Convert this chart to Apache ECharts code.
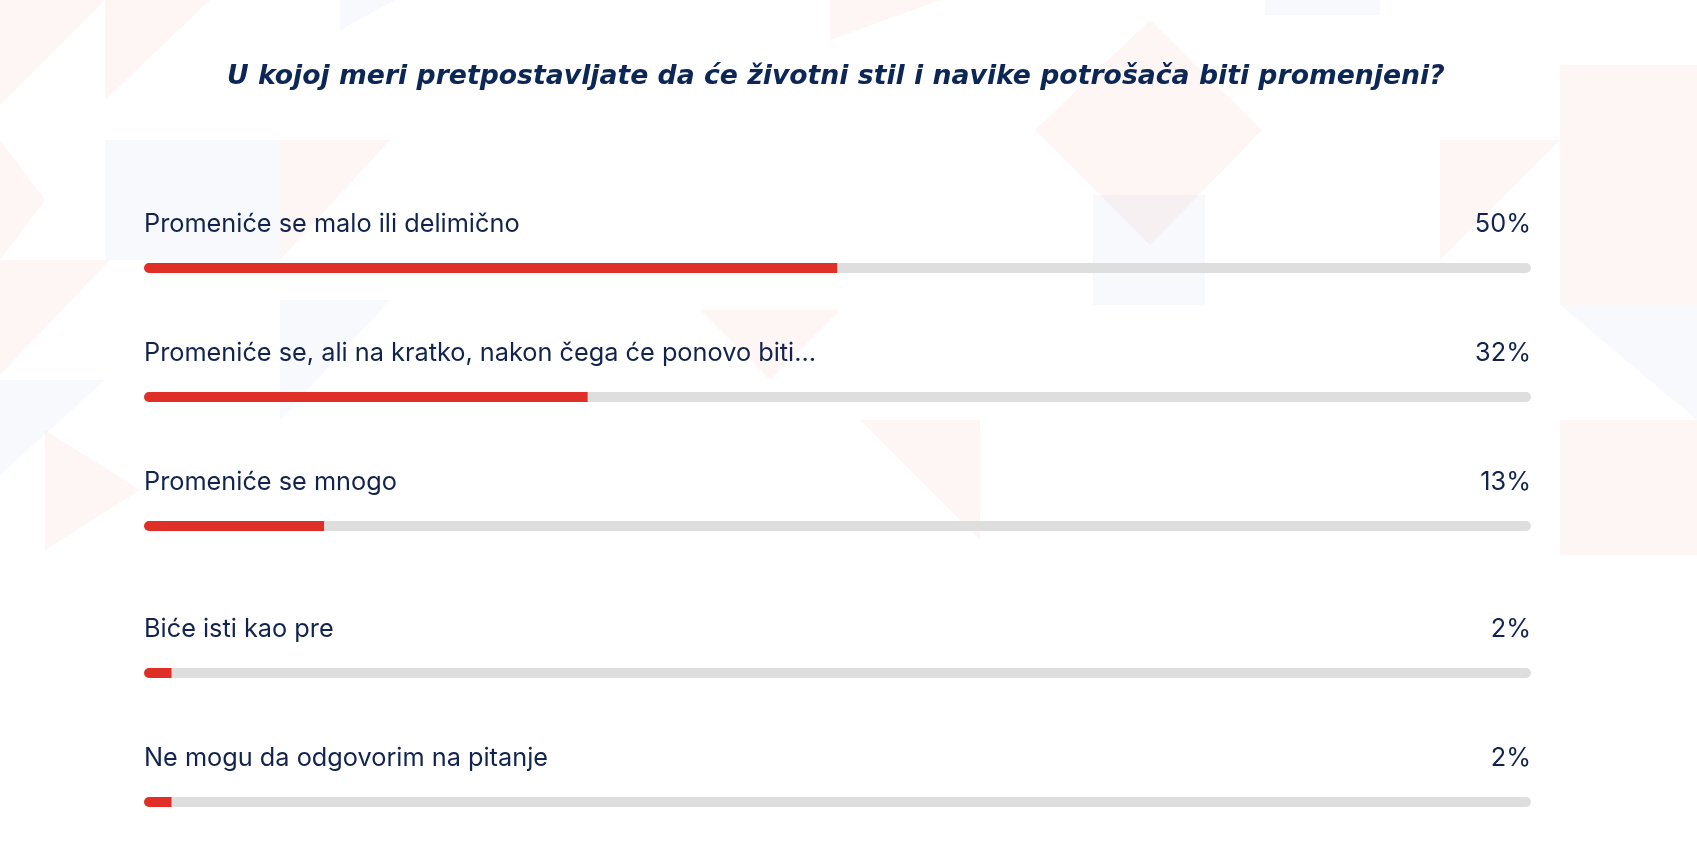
<!DOCTYPE html>
<html>
<head>
<meta charset="utf-8">
<script src="https://cdn.jsdelivr.net/npm/echarts@6/dist/echarts.min.js"></script>
<style>
  html, body { margin: 0; padding: 0; background: #ffffff; }
  #chart { width: 1697px; height: 857px; }
</style>
</head>
<body>
<div id="chart"></div>
<script>
// ---- data ----
const titleText = 'U kojoj meri pretpostavljate da će životni stil i navike potrošača biti promenjeni?';
const categories = [
  'Promeniće se malo ili delimično',
  'Promeniće se, ali na kratko, nakon čega će ponovo biti...',
  'Promeniće se mnogo',
  'Biće isti kao pre',
  'Ne mogu da odgovorim na pitanje'
];
const values = [50, 32, 13, 2, 2];
const maxValue = 100;

// ---- layout (styling only) ----
const W = 1697;
const trackLeft = 144, trackRight = 1531;
const barCenters = [268, 397, 526, 673, 802];
const barH = 10;
const labelLift = -39;
const textColor = '#12244d';
const red = '#e02f26';
const track = '#dedede';
const labelFont = { fontFamily: 'Inter', fontSize: 25.3, color: textColor };

const grids = [], xAxes = [], yAxes = [], series = [];
categories.forEach((cat, i) => {
  grids.push({ left: trackLeft, right: W - trackRight, top: barCenters[i] - barH / 2, height: barH });
  xAxes.push({ gridIndex: i, type: 'value', min: 0, max: maxValue, show: false });
  yAxes.push({ gridIndex: i, type: 'category', data: [cat], show: false });
  series.push({
    type: 'bar', xAxisIndex: i, yAxisIndex: i, stack: 'row' + i,
    data: [values[i]], barWidth: barH,
    itemStyle: { color: red, borderRadius: [barH / 2, 0, 0, barH / 2] },
    label: Object.assign({
      show: true, position: [0, labelLift], align: 'left', verticalAlign: 'middle',
      formatter: () => cat
    }, labelFont),
    silent: true
  });
  series.push({
    type: 'bar', xAxisIndex: i, yAxisIndex: i, stack: 'row' + i,
    data: [maxValue - values[i]], barWidth: barH,
    itemStyle: { color: track, borderRadius: [0, barH / 2, barH / 2, 0] },
    label: Object.assign({
      show: true, position: ['100%', labelLift], align: 'right', verticalAlign: 'middle',
      formatter: () => values[i] + '%'
    }, labelFont),
    silent: true
  });
});

// faint decorative background triangles
const pink = 'rgba(232,70,55,0.05)';
const blue = 'rgba(70,120,210,0.045)';
const shapes = [
  [pink, [[0,0],[105,0],[0,105]]],
  [pink, [[105,0],[210,0],[105,100]]],
  [blue, [[340,0],[395,0],[340,30]]],
  [pink, [[0,140],[45,200],[0,260]]],
  [blue, [[105,140],[280,140],[280,260],[105,260]]],
  [pink, [[280,140],[390,140],[280,260]]],
  [pink, [[0,260],[110,260],[0,375]]],
  [blue, [[0,380],[105,380],[0,475]]],
  [pink, [[45,430],[140,490],[45,550]]],
  [blue, [[280,300],[390,300],[280,420]]],
  [pink, [[700,310],[840,310],[770,380]]],
  [pink, [[860,420],[980,420],[980,540]]],
  [pink, [[830,0],[940,0],[830,40]]],
  [pink, [[1035,130],[1150,20],[1262,130],[1150,245]]],
  [blue, [[1093,195],[1205,195],[1205,305],[1093,305]]],
  [blue, [[1265,0],[1380,0],[1380,15],[1265,15]]],
  [pink, [[1440,140],[1560,140],[1440,260]]],
  [pink, [[1560,65],[1697,65],[1697,305],[1560,305]]],
  [blue, [[1560,305],[1697,305],[1697,420]]],
  [pink, [[1560,420],[1697,420],[1697,555],[1560,555]]]
];
const graphics = shapes.map(s => ({
  type: 'polygon', z: -10, silent: true,
  shape: { points: s[1] }, style: { fill: s[0] }
}));

const chart = echarts.init(document.getElementById('chart'), null, { renderer: 'canvas' });
chart.setOption({
  backgroundColor: '#ffffff',
  animation: false,
  title: {
    text: titleText, left: 222, top: 59,
    textStyle: { fontFamily: 'DejaVu Sans', fontSize: 26.7, fontWeight: 'bold', fontStyle: 'italic', color: '#0c2656' }
  },
  graphic: graphics,
  grid: grids,
  xAxis: xAxes,
  yAxis: yAxes,
  series: series
});
</script>
</body>
</html>
